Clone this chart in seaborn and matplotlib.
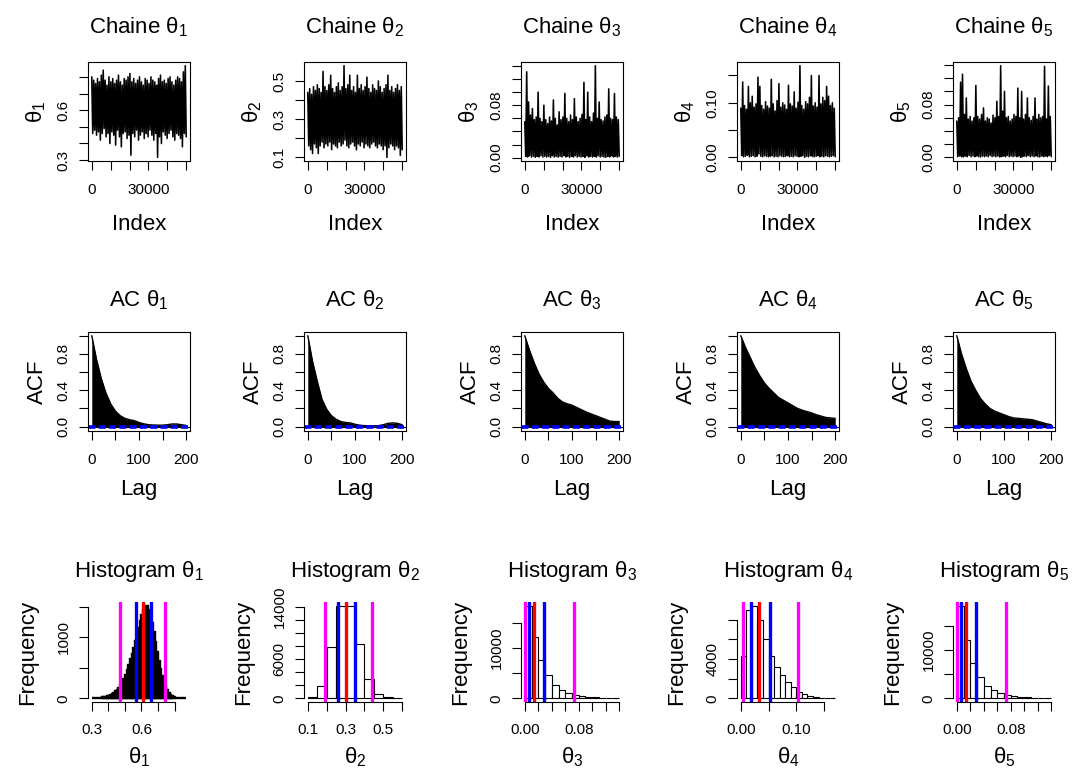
import numpy as np
import matplotlib
matplotlib.use("Agg")
import matplotlib.pyplot as plt
import seaborn as sns

# ---------------- data ----------------
N_ITER = 50000
CHAIN_NAMES = ["1", "2", "3", "4", "5"]

# trace envelopes: alternating upper / lower excursions along the chain
trace_high_1 = [0.80,0.78,0.76,0.79,0.77,0.81,0.84,0.78,0.75,0.80,
                0.77,0.79,0.76,0.78,0.81,0.77,0.75,0.79,0.78,0.80,
                0.82,0.77,0.79,0.76,0.78,0.80,0.77,0.75,0.79,0.78,
                0.76,0.80,0.78,0.77,0.75,0.79,0.81,0.77,0.78,0.76,
                0.79,0.80,0.77,0.75,0.78,0.80,0.79,0.77,0.83,0.867]
trace_low_1 = [0.46,0.48,0.45,0.47,0.42,0.46,0.49,0.44,0.46,0.40,
               0.47,0.45,0.39,0.48,0.44,0.38,0.46,0.47,0.43,0.45,
               0.33,0.46,0.44,0.48,0.42,0.45,0.47,0.43,0.46,0.44,
               0.48,0.45,0.42,0.46,0.317,0.44,0.40,0.47,0.45,0.43,
               0.46,0.48,0.44,0.42,0.46,0.45,0.43,0.38,0.46,0.44]
trace_high_2 = [0.44,0.46,0.43,0.47,0.45,0.48,0.46,0.44,0.55,0.47,
                0.45,0.48,0.53,0.46,0.44,0.47,0.49,0.45,0.47,0.58,
                0.46,0.48,0.53,0.45,0.47,0.44,0.53,0.46,0.48,0.45,
                0.47,0.52,0.46,0.44,0.48,0.46,0.45,0.50,0.47,0.44,
                0.46,0.48,0.53,0.45,0.47,0.44,0.46,0.48,0.45,0.47]
trace_low_2 = [0.16,0.14,0.12,0.17,0.15,0.12,0.16,0.18,0.15,0.17,
               0.16,0.18,0.14,0.17,0.16,0.15,0.18,0.16,0.17,0.19,
               0.16,0.15,0.17,0.18,0.16,0.14,0.17,0.16,0.18,0.15,
               0.17,0.16,0.15,0.17,0.18,0.16,0.15,0.17,0.16,0.14,
               0.16,0.100,0.15,0.17,0.16,0.14,0.16,0.15,0.11,0.14]
trace_high_3 = [0.055,0.131,0.085,0.065,0.075,0.058,0.062,0.100,0.060,0.055,
                0.080,0.058,0.052,0.062,0.056,0.088,0.060,0.050,0.070,0.058,
                0.062,0.098,0.060,0.055,0.065,0.058,0.090,0.062,0.055,0.060,
                0.066,0.115,0.058,0.100,0.062,0.055,0.068,0.1404,0.060,0.085,
                0.058,0.056,0.062,0.065,0.105,0.060,0.058,0.098,0.062,0.058]
trace_low_3 = [0.002,0.001,0.003,0.001,0.002,0.0005,0.002,0.001,0.003,0.001,
               0.002,0.001,0.002,0.0005,0.003,0.001,0.002,0.001,0.002,0.001,
               0.003,0.001,0.002,0.0005,0.002,0.001,0.003,0.001,0.002,0.001,
               0.002,0.0005,0.003,0.001,0.002,0.001,0.002,0.001,0.003,0.001,
               0.002,0.001,0.0005,0.002,0.001,0.003,0.001,0.002,0.001,0.002]
trace_high_4 = [0.090,0.138,0.095,0.088,0.130,0.100,0.112,0.092,0.098,0.147,
                0.130,0.095,0.088,0.102,0.094,0.090,0.143,0.098,0.085,0.104,
                0.135,0.092,0.100,0.096,0.088,0.132,0.098,0.094,0.120,0.090,
                0.101,0.168,0.095,0.088,0.102,0.098,0.110,0.150,0.094,0.100,
                0.092,0.150,0.098,0.110,0.104,0.130,0.112,0.095,0.100,0.090]
trace_low_4 = [0.003,0.001,0.002,0.004,0.001,0.002,0.003,0.001,0.002,0.006,
               0.002,0.001,0.003,0.002,0.001,0.002,0.003,0.001,0.002,0.001,
               0.003,0.002,0.001,0.002,0.003,0.001,0.002,0.001,0.003,0.002,
               0.001,0.002,0.003,0.0,0.002,0.001,0.003,0.002,0.001,0.002,
               0.003,0.001,0.002,0.001,0.003,0.002,0.001,0.002,0.003,0.001]
trace_high_5 = [0.055,0.060,0.114,0.126,0.065,0.090,0.058,0.062,0.055,0.060,
                0.109,0.062,0.058,0.065,0.075,0.055,0.060,0.058,0.052,0.064,
                0.060,0.085,0.062,0.139,0.070,0.100,0.060,0.062,0.055,0.058,
                0.065,0.062,0.105,0.060,0.100,0.058,0.065,0.090,0.060,0.056,
                0.062,0.090,0.058,0.065,0.060,0.062,0.138,0.058,0.108,0.062]
trace_low_5 = [0.001,0.002,0.001,0.0005,0.002,0.001,0.003,0.001,0.002,0.001,
               0.002,0.001,0.0005,0.002,0.001,0.002,0.001,0.003,0.001,0.002,
               0.001,0.002,0.0005,0.001,0.002,0.001,0.003,0.001,0.002,0.001,
               0.002,0.001,0.002,0.0,0.001,0.002,0.001,0.003,0.001,0.002,
               0.001,0.002,0.001,0.0005,0.002,0.001,0.002,0.001,0.003,0.001]

# autocorrelation read at lags 0, 10, ..., 200
acf_lags = [0,10,20,30,40,50,60,70,80,90,100,110,120,130,140,150,160,170,180,190,200]
acf_1 = [1.0,0.74,0.53,0.37,0.25,0.17,0.12,0.09,0.075,0.065,0.045,0.03,0.02,0.017,0.015,0.015,0.02,0.028,0.028,0.02,0.012]
acf_2 = [1.0,0.72,0.50,0.30,0.19,0.12,0.08,0.055,0.045,0.04,0.025,0.015,0.01,0.008,0.008,0.01,0.02,0.035,0.04,0.035,0.02]
acf_3 = [1.0,0.84,0.70,0.58,0.49,0.42,0.37,0.31,0.27,0.25,0.235,0.21,0.185,0.16,0.14,0.12,0.10,0.08,0.06,0.055,0.055]
acf_4 = [1.0,0.87,0.76,0.65,0.56,0.48,0.42,0.37,0.32,0.29,0.26,0.23,0.20,0.18,0.165,0.15,0.13,0.115,0.10,0.095,0.09]
acf_5 = [1.0,0.80,0.64,0.50,0.40,0.31,0.25,0.20,0.17,0.15,0.13,0.11,0.095,0.09,0.085,0.08,0.075,0.06,0.045,0.03,0.02]
acf_ci = 0.0088

# histograms
hist_start_1, hist_width_1 = 0.30, 0.01
hist_counts_1 = [3,4,6,8,10,13,17,22,28,35,
                 45,57,72,90,112,140,175,215,265,320,
                 385,460,545,635,730,830,930,1040,1150,1260,
                 1360,1440,1500,1515,1450,1360,1230,1080,920,760,
                 610,475,360,265,190,130,88,57,36,21,
                 12,7,4,2,1,1,1]
hist_start_2, hist_width_2 = 0.10, 0.05
hist_counts_2 = [250,1850,7800,14150,14100,8300,3000,720,200,30]
hist_start_3, hist_width_3 = 0.0, 0.01
hist_counts_3 = [18470,12300,7630,4690,2680,1670,1070,740,535,335,200,130,70,40]
hist_start_4, hist_width_4 = 0.0, 0.01
hist_counts_4 = [4340,8960,9435,8000,6050,4340,3180,2360,1610,1160,684,410,240,137,70,35,15]
hist_start_5, hist_width_5 = 0.0, 0.01
hist_counts_5 = [19085,12030,7260,4430,2560,1730,1110,690,485,277,207,138,70,40]

# quantile lines: 2.5%, 25%, 50%, 75%, 97.5%
quant_1 = [0.4725, 0.5647, 0.6118, 0.657, 0.741]
quant_2 = [0.191, 0.259, 0.3036, 0.348, 0.4375]
quant_3 = [0.0005, 0.006, 0.014, 0.028, 0.0735]
quant_4 = [0.0043, 0.018, 0.032, 0.052, 0.103]
quant_5 = [0.0, 0.006, 0.014, 0.028, 0.0725]
quant_colors = ["#FF00FF", "#0000FF", "#FF0000", "#0000FF", "#FF00FF"]

# axis ticks and labels
trace_yticks = [[0.3,0.4,0.5,0.6,0.7,0.8], [0.1,0.2,0.3,0.4,0.5],
                [0,0.02,0.04,0.06,0.08,0.10,0.12,0.14], [0,0.05,0.10,0.15],
                [0,0.02,0.04,0.06,0.08,0.10,0.12,0.14]]
trace_ylabels = [["0.3","","","0.6","",""], ["0.1","","0.3","","0.5"],
                 ["0.00","","","","0.08","","",""], ["0.00","","0.10",""],
                 ["0.00","","","","0.08","","",""]]
trace_xticks = [0,10000,20000,30000,40000,50000]
trace_xlabels = ["0","","","30000","",""]
acf_xticks = [0,50,100,150,200]
acf_xlabels = ["0","","100","","200"]
acf_yticks = [0,0.2,0.4,0.6,0.8,1.0]
acf_ylabels = ["0.0","","0.4","","0.8",""]
hist_xticks = [[0.3,0.4,0.5,0.6,0.7,0.8], [0.1,0.2,0.3,0.4,0.5,0.6],
               [0,0.02,0.04,0.06,0.08,0.10,0.12,0.14], [0,0.05,0.10,0.15],
               [0,0.02,0.04,0.06,0.08,0.10,0.12,0.14]]
hist_xlabels = [["0.3","","","0.6","",""], ["0.1","","0.3","","0.5",""],
                ["0.00","","","","0.08","","",""], ["0.00","","0.10",""],
                ["0.00","","","","0.08","","",""]]
hist_yticks = [[0,500,1000,1500], [0,2000,4000,6000,8000,10000,12000,14000],
               [0,5000,10000,15000], [0,2000,4000,6000,8000], [0,5000,10000,15000]]
hist_ylabels = [["0","","1000",""], ["0","","","6000","","","","14000"],
                ["0","","10000",""], ["0","","4000","",""], ["0","","10000",""]]

# ---------------- style ----------------
sns.set_style("ticks")
plt.rcParams["font.family"] = ["Liberation Sans", "DejaVu Sans"]
plt.rcParams["mathtext.fontset"] = "custom"
plt.rcParams["mathtext.rm"] = "Liberation Sans"
plt.rcParams["mathtext.it"] = "Liberation Sans"
plt.rcParams["mathtext.default"] = "regular"
plt.rcParams["axes.linewidth"] = 0.8
plt.rcParams["axes.edgecolor"] = "black"

W, H = 1072, 772
fig = plt.figure(figsize=(W / 100, H / 100), dpi=100)
fig.patch.set_facecolor("white")

LEFTS = [88, 304, 521, 737, 953]
BW = 102
TOPS = [62, 332, 602]
BH = [99, 99, 100]
LAB = 16
TICK = 11
HIST_EDGE_LW = [1.7, 0.8, 0.8, 0.8, 0.8]


def add_ax(col, row):
    l, t, h = LEFTS[col], TOPS[row], BH[row]
    return fig.add_axes([l / W, 1 - (t + h) / H, BW / W, h / H])


def ftext(x, y, s, **kw):
    fig.text(x / W, 1 - y / H, s, fontsize=LAB, color="black", **kw)


def style_ticks(ax, xpad, ypad=6):
    ax.tick_params(axis="both", direction="out", length=6.5, width=0.8,
                   labelsize=TICK, colors="black")
    ax.tick_params(axis="x", pad=xpad)
    ax.tick_params(axis="y", pad=ypad, labelrotation=90)
    for lab in ax.get_yticklabels():
        lab.set_verticalalignment("center")
    ax.tick_params(top=False, right=False)


def ext(lo, hi, f=0.04):
    r = hi - lo
    return lo - f * r, hi + f * r


traces = [(trace_high_1, trace_low_1), (trace_high_2, trace_low_2),
          (trace_high_3, trace_low_3), (trace_high_4, trace_low_4),
          (trace_high_5, trace_low_5)]
acfs = [acf_1, acf_2, acf_3, acf_4, acf_5]
hists = [(hist_start_1, hist_width_1, hist_counts_1), (hist_start_2, hist_width_2, hist_counts_2),
         (hist_start_3, hist_width_3, hist_counts_3), (hist_start_4, hist_width_4, hist_counts_4),
         (hist_start_5, hist_width_5, hist_counts_5)]
quants = [quant_1, quant_2, quant_3, quant_4, quant_5]

for i, name in enumerate(CHAIN_NAMES):
    cx = LEFTS[i] + BW / 2
    th = r"\theta_" + name

    # ---- row 1: trace ----
    ax = add_ax(i, 0)
    hi, lo = traces[i]
    vals = np.column_stack([hi, lo]).ravel()
    idx = np.linspace(1, N_ITER, len(vals))
    sns.lineplot(x=idx, y=vals, ax=ax, color="black", lw=1.15,
                 estimator=None, sort=False)
    ax.set_xlim(*ext(1, N_ITER))
    ax.set_ylim(*ext(min(vals), max(vals)))
    ax.set_xticks(trace_xticks)
    ax.set_xticklabels(trace_xlabels)
    ax.set_yticks(trace_yticks[i])
    ax.set_yticklabels(trace_ylabels[i])
    ax.set_xlabel("")
    ax.set_ylabel("")
    style_ticks(ax, xpad=9.5)
    ftext(cx, TOPS[0] - 29, r"Chaine $%s$" % th, ha="center", va="baseline")
    ftext(cx, TOPS[0] + BH[0] + 69, "Index", ha="center", va="baseline")
    ftext(LEFTS[i] - 46, TOPS[0] + BH[0] / 2, r"$%s$" % th, ha="center",
          va="baseline", rotation=90, rotation_mode="anchor")

    # ---- row 2: ACF ----
    ax = add_ax(i, 1)
    a = acfs[i]
    ax.fill_between(acf_lags, 0, a, color="black", lw=0)
    sns.lineplot(x=acf_lags, y=a, ax=ax, color="black", lw=1.0)
    ax.axhline(0, color="black", lw=0.8)
    for s in (1, -1):
        ax.axhline(s * acf_ci, color="#0000FF", lw=1.9, ls=(0, (2.6, 1.3)))
    ax.set_xlim(*ext(acf_lags[0], acf_lags[-1]))
    ax.set_ylim(*ext(min(min(a), -acf_ci), max(max(a), acf_ci)))
    ax.set_xticks(acf_xticks)
    ax.set_xticklabels(acf_xlabels)
    ax.set_yticks(acf_yticks)
    ax.set_yticklabels(acf_ylabels)
    ax.set_xlabel("")
    ax.set_ylabel("")
    style_ticks(ax, xpad=9.5)
    ftext(cx, TOPS[1] - 26, r"AC $%s$" % th, ha="center", va="baseline")
    ftext(cx, TOPS[1] + BH[1] + 64, "Lag", ha="center", va="baseline")
    ftext(LEFTS[i] - 45, TOPS[1] + BH[1] / 2, "ACF", ha="center",
          va="baseline", rotation=90, rotation_mode="anchor")

    # ---- row 3: histogram ----
    ax = add_ax(i, 2)
    start, width, counts = hists[i]
    edges = [start + width * k for k in range(len(counts) + 1)]
    centers = [(edges[k] + edges[k + 1]) / 2 for k in range(len(counts))]
    sns.histplot(x=centers, weights=counts, bins=edges, ax=ax, stat="count",
                 color="white", edgecolor="black", linewidth=HIST_EDGE_LW[i], alpha=1)
    for q, c in zip(quants[i], quant_colors):
        ax.axvline(q, color=c, lw=2.4)
    ax.set_xlim(*ext(edges[0], edges[-1]))
    ax.set_ylim(*ext(0, max(counts)))
    ax.set_xticks(hist_xticks[i])
    ax.set_xticklabels(hist_xlabels[i])
    ax.set_yticks(hist_yticks[i])
    ax.set_yticklabels(hist_ylabels[i])
    ax.set_xlabel("")
    ax.set_ylabel("")
    ax.spines["top"].set_visible(False)
    ax.spines["right"].set_visible(False)
    ax.spines["left"].set_bounds(hist_yticks[i][0], hist_yticks[i][-1])
    ax.spines["bottom"].set_bounds(hist_xticks[i][0], hist_xticks[i][-1])
    style_ticks(ax, xpad=8.5)
    ftext(cx, TOPS[2] - 25, r"Histogram $%s$" % th, ha="center", va="baseline")
    ftext(cx, TOPS[2] + BH[2] + 61, r"$%s$" % th, ha="center", va="baseline")
    ftext(LEFTS[i] - 55, TOPS[2] + BH[2] / 2, "Frequency", ha="center",
          va="baseline", rotation=90, rotation_mode="anchor")

fig.savefig("out.png", dpi=100, facecolor="white")
